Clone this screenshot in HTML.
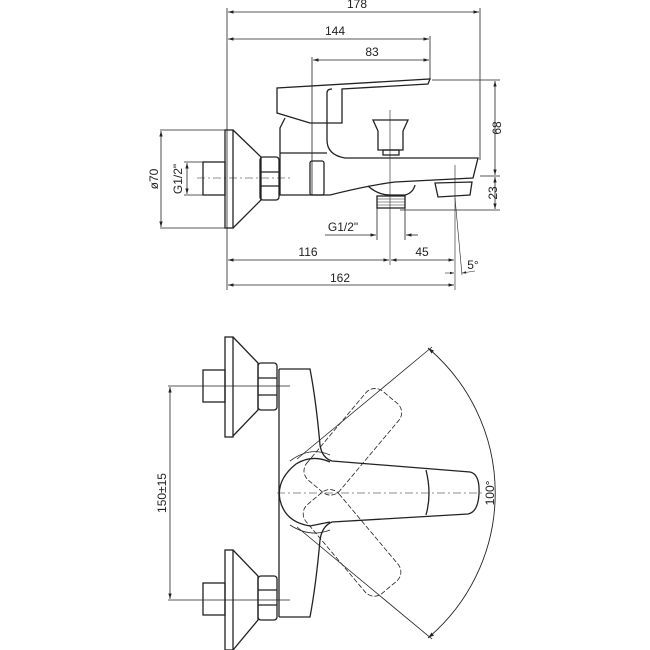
<!DOCTYPE html>
<html><head><style>
html,body{margin:0;padding:0;background:#fff;}
svg{display:block;}
text{font-family:"Liberation Sans",sans-serif;font-size:12px;fill:#222;}
</style></head><body>
<svg width="650" height="650" viewBox="0 0 650 650" xmlns="http://www.w3.org/2000/svg">
<defs>
<marker id="a" viewBox="0 0 10 10" refX="10" refY="5" markerWidth="7" markerHeight="7" orient="auto-start-reverse"><path d="M0,2 L10,5 L0,8 z" fill="#222"/></marker>
</defs>
<g stroke="#222" fill="none" stroke-width="1">
<!-- TOP VIEW dims -->
<line x1="227" y1="8" x2="227" y2="290" stroke-width="0.8"/>
<line x1="480" y1="8" x2="480" y2="160" stroke-width="0.8"/>
<line x1="228" y1="12" x2="479" y2="12" marker-start="url(#a)" marker-end="url(#a)" stroke-width="0.8"/>
<line x1="430" y1="36" x2="430" y2="80" stroke-width="0.8"/>
<line x1="228" y1="39" x2="429" y2="39" marker-start="url(#a)" marker-end="url(#a)" stroke-width="0.8"/>
<line x1="312" y1="57" x2="312" y2="195" stroke-width="0.8"/>
<line x1="313" y1="60" x2="429" y2="60" marker-start="url(#a)" marker-end="url(#a)" stroke-width="0.8"/>
<line x1="432" y1="80" x2="500" y2="80" stroke-width="0.8"/>
<line x1="480" y1="176" x2="500" y2="176" stroke-width="0.8"/>
<line x1="400" y1="210" x2="500" y2="210" stroke-width="0.8"/>
<line x1="495" y1="81" x2="495" y2="175" marker-start="url(#a)" marker-end="url(#a)" stroke-width="0.8"/>
<line x1="495" y1="177" x2="495" y2="209" marker-start="url(#a)" marker-end="url(#a)" stroke-width="0.8"/>
<line x1="160" y1="130" x2="226" y2="130" stroke-width="0.8"/>
<line x1="160" y1="228" x2="226" y2="228" stroke-width="0.8"/>
<line x1="161" y1="131" x2="161" y2="227" marker-start="url(#a)" marker-end="url(#a)" stroke-width="0.8"/>
<line x1="184" y1="162" x2="204" y2="162" stroke-width="0.8"/>
<line x1="184" y1="195" x2="204" y2="195" stroke-width="0.8"/>
<line x1="187" y1="163" x2="187" y2="194" marker-start="url(#a)" marker-end="url(#a)" stroke-width="0.8"/>
<line x1="197" y1="178" x2="290" y2="178" stroke-dasharray="8,3,2,3" stroke-width="0.6"/>
<line x1="377" y1="208" x2="377" y2="240" stroke-width="0.8"/>
<line x1="405" y1="208" x2="405" y2="240" stroke-width="0.8"/>
<line x1="325" y1="235" x2="376" y2="235" marker-end="url(#a)" stroke-width="0.8"/>
<line x1="418" y1="235" x2="406" y2="235" marker-end="url(#a)" stroke-width="0.8"/>
<line x1="390" y1="110" x2="390" y2="265" stroke-width="0.6"/>
<line x1="455" y1="165" x2="455" y2="290" stroke-width="0.6"/>
<line x1="455" y1="198" x2="462" y2="275" stroke-width="0.6"/>
<line x1="228" y1="260" x2="389" y2="260" marker-start="url(#a)" marker-end="url(#a)" stroke-width="0.8"/>
<line x1="391" y1="260" x2="454" y2="260" marker-start="url(#a)" marker-end="url(#a)" stroke-width="0.8"/>
<line x1="228" y1="285" x2="454" y2="285" marker-start="url(#a)" marker-end="url(#a)" stroke-width="0.8"/>
<line x1="445" y1="273" x2="454" y2="273" marker-end="url(#a)" stroke-width="0.6"/>
<line x1="475" y1="271" x2="462" y2="273" marker-end="url(#a)" stroke-width="0.6"/>

<!-- top view body -->
<g stroke-width="1.3">
<rect x="225" y="130" width="8" height="98"/>
<path d="M233,130 L261,157 L261,200 L233,228"/>
<rect x="203" y="162" width="22" height="33"/>
<rect x="260" y="157" width="19" height="43" rx="3"/>
<line x1="260" y1="172" x2="279" y2="172"/><line x1="260" y1="186" x2="279" y2="186"/>
<path d="M277,113 L277,88 L430,79 L428,84 L342,89 L342,123 L310,123 Z"/>
<path d="M327,123 L327,93 Q327,89 332,89"/>
<path d="M285,118 L280,128 L280,195 L330,195 Q370,185 395,182 L473,178 L478,158 L345,158 Q327,155 327,140 L327,123"/>
<line x1="280" y1="153" x2="327" y2="153"/>
<rect x="310" y="161" width="14" height="34" rx="2"/>
<path d="M368,186 Q378,195 390,195 L405,195 Q413,193 415,185"/>
<rect x="377" y="196" width="28" height="12"/>
<line x1="377" y1="199" x2="405" y2="199" stroke-width="0.6"/><line x1="377" y1="202" x2="405" y2="202" stroke-width="0.6"/><line x1="377" y1="205" x2="405" y2="205" stroke-width="0.6"/>
<path d="M435,183 L472,182 L470,195 L438,197 Z"/>
<path d="M373,120 L408,120 L403,131 L403,150 L378,150 L378,131 Z"/>
<rect x="383" y="150" width="16" height="5"/>
</g>

<!-- BOTTOM VIEW -->
<line x1="168" y1="386" x2="290" y2="386" stroke-width="0.8"/>
<line x1="168" y1="600" x2="290" y2="600" stroke-width="0.8"/>
<line x1="170" y1="387" x2="170" y2="599" marker-start="url(#a)" marker-end="url(#a)" stroke-width="0.8"/>
<line x1="277" y1="493" x2="482" y2="493" stroke-dasharray="8,3,2,3" stroke-width="0.6"/>
<g stroke-width="1.3">
<rect x="225" y="337" width="8" height="100"/>
<path d="M233,337 L258,363 L258,410 L233,436"/>
<rect x="203" y="370" width="22" height="32"/>
<rect x="258" y="363" width="19" height="47" rx="3"/>
<line x1="258" y1="378" x2="277" y2="378"/><line x1="258" y1="395" x2="277" y2="395"/>
<rect x="225" y="550" width="8" height="100"/>
<path d="M233,550 L258,576 L258,620 L233,650"/>
<rect x="203" y="583" width="22" height="32"/>
<rect x="258" y="576" width="19" height="44" rx="3"/>
<line x1="258" y1="590" x2="277" y2="590"/><line x1="258" y1="605" x2="277" y2="605"/>
<line x1="279" y1="369" x2="279" y2="617"/>
<path d="M279,369 L310,369 Q316,400 320,445 Q322,458 332,461 L470,472 Q480,474 479,494 Q478,512 468,514 L332,522 Q322,526 320,540 Q316,585 310,617 L279,617"/>
<path d="M330,462 Q312,454 296,464 Q276,480 280,500 Q285,522 310,526 L330,522" />
<path d="M426,470 Q432,494 426,515"/>
<path d="M290,461 Q310,446 330,455" stroke-width="0.8"/>
<path d="M290,525 Q310,538 330,530" stroke-width="0.8"/>
</g>
<g stroke-width="0.8" stroke-dasharray="5,2">
<rect x="318" y="471" width="116" height="43" rx="12" transform="rotate(-50 310 492)"/>
<rect x="318" y="471" width="116" height="43" rx="12" transform="rotate(50 310 492)"/>
</g>
<line x1="297" y1="459" x2="432" y2="347" stroke-width="0.8"/>
<line x1="297" y1="527" x2="432" y2="639" stroke-width="0.8"/>
<path d="M428,348 A190,190 0 0 1 428,638" stroke-width="0.9" marker-start="url(#a)" marker-end="url(#a)"/>
</g>
<text x="357" y="8" text-anchor="middle">178</text>
<text x="335" y="35" text-anchor="middle">144</text>
<text x="372" y="56" text-anchor="middle">83</text>
<text x="308" y="256" text-anchor="middle">116</text>
<text x="422" y="256" text-anchor="middle">45</text>
<text x="340" y="282" text-anchor="middle">162</text>
<text x="473" y="269" text-anchor="middle" font-size="11">5°</text>
<text x="343" y="231" text-anchor="middle">G1/2"</text>
<text transform="translate(497,128) rotate(-90)" text-anchor="middle" dy="4">68</text>
<text transform="translate(493,193) rotate(-90)" text-anchor="middle" dy="4">23</text>
<text transform="translate(154,179) rotate(-90)" text-anchor="middle" dy="4">ø70</text>
<text transform="translate(178,179) rotate(-90)" text-anchor="middle" dy="4">G1/2"</text>
<text transform="translate(162,493) rotate(-90)" text-anchor="middle" dy="4">150±15</text>
<text transform="translate(490,493) rotate(-90)" text-anchor="middle" dy="4">100°</text>
</svg>
</body></html>
